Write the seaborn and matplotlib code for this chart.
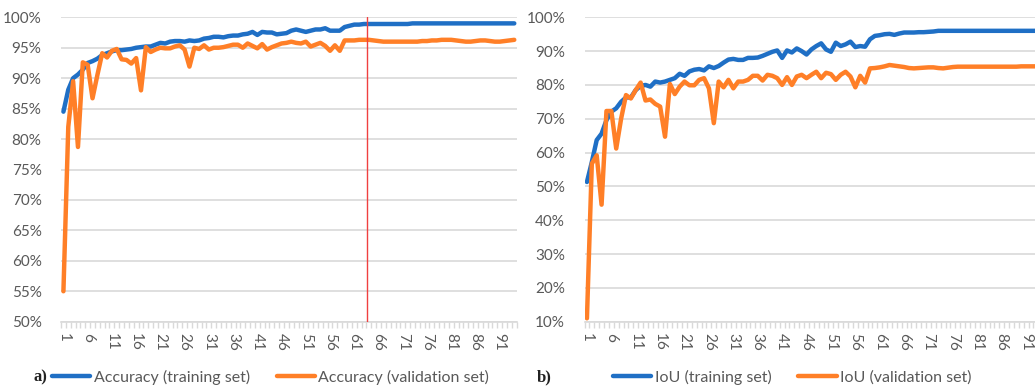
import numpy as np
import pandas as pd
import matplotlib
matplotlib.use("Agg")
import matplotlib.pyplot as plt
import seaborn as sns
from matplotlib.lines import Line2D

# ---------------- data ----------------
epochs = list(range(1, 95))

acc_train = [84.5, 88.1, 90.0, 90.6, 91.4, 92.5, 92.8, 93.2, 93.8, 94.1,
             94.4, 94.6, 94.6, 94.7, 94.8, 95.0, 95.1, 95.2, 95.2, 95.5,
             95.8, 95.7, 96.0, 96.1, 96.1, 96.0, 96.2, 96.1, 96.2, 96.5,
             96.6, 96.8, 96.8, 96.7, 96.9, 97.0, 97.0, 97.2, 97.3, 97.6,
             97.1, 97.6, 97.5, 97.5, 97.2, 97.3, 97.4, 97.8, 98.0, 97.8,
             97.6, 97.8, 98.0, 98.0, 98.2, 97.8, 97.8, 97.8, 98.4, 98.6,
             98.8, 98.8, 98.9, 98.9, 98.9, 98.9, 98.9, 98.9, 98.9, 98.9,
             98.9, 98.9, 99.0, 99.0, 99.0, 99.0, 99.0, 99.0, 99.0, 99.0,
             99.0, 99.0, 99.0, 99.0, 99.0, 99.0, 99.0, 99.0, 99.0, 99.0,
             99.0, 99.0, 99.0, 99.0]

acc_val = [55.0, 82.0, 89.5, 78.7, 92.6, 92.2, 86.7, 90.5, 94.1, 93.4,
           94.5, 94.8, 93.1, 93.0, 92.4, 93.3, 88.0, 95.1, 94.3, 94.7,
           95.0, 94.9, 94.9, 95.2, 95.4, 94.7, 91.9, 95.0, 94.8, 95.4,
           94.7, 95.0, 95.0, 95.1, 95.3, 95.5, 95.5, 95.0, 95.7, 95.3,
           94.9, 95.6, 94.7, 95.1, 95.4, 95.7, 95.8, 96.0, 95.8, 95.7,
           96.0, 95.2, 95.5, 95.8, 95.3, 94.5, 95.4, 94.5, 96.2, 96.2,
           96.2, 96.3, 96.3, 96.3, 96.2, 96.1, 96.0, 96.0, 96.0, 96.0,
           96.0, 96.0, 96.0, 96.0, 96.1, 96.1, 96.2, 96.2, 96.3, 96.3,
           96.3, 96.2, 96.1, 96.0, 96.0, 96.1, 96.2, 96.2, 96.1, 96.0,
           96.0, 96.1, 96.2, 96.3]

iou_train = [51.3, 57.2, 63.7, 65.6, 69.6, 72.1, 73.1, 75.0, 76.3, 76.3,
             78.5, 79.7, 80.0, 79.5, 81.0, 80.7, 81.0, 81.5, 82.0, 83.3,
             82.7, 84.0, 84.5, 84.7, 84.3, 85.5, 85.0, 85.6, 86.6, 87.5,
             87.7, 87.4, 87.4, 88.0, 88.0, 88.1, 88.6, 89.2, 89.8, 90.2,
             88.0, 90.2, 89.6, 90.8, 90.0, 89.0, 90.5, 91.5, 92.3, 90.5,
             89.8, 92.5, 91.5, 92.0, 92.8, 91.2, 91.5, 91.3, 93.5, 94.5,
             94.7, 95.0, 95.1, 94.8, 95.2, 95.5, 95.5, 95.5, 95.6, 95.6,
             95.7, 95.8, 96.0, 96.0, 96.0, 96.0, 96.0, 96.0, 96.0, 96.0,
             96.0, 96.0, 96.0, 96.0, 96.0, 96.0, 96.0, 96.0, 96.0, 96.0,
             96.0, 96.0, 96.0, 96.0]

iou_val = [11.0, 56.7, 59.2, 44.6, 72.3, 72.3, 61.2, 70.0, 77.0, 76.0,
           78.5, 80.7, 75.4, 75.7, 74.4, 73.6, 64.7, 80.3, 77.3, 79.5,
           81.0, 79.9, 79.9, 81.5, 82.0, 79.0, 68.7, 81.0, 79.3, 81.5,
           79.0, 81.0, 81.0, 81.5, 82.7, 82.7, 81.3, 83.0, 82.7, 82.0,
           80.0, 82.3, 80.0, 82.5, 83.0, 82.0, 83.0, 83.9, 82.0, 83.6,
           83.2, 81.5, 83.0, 83.9, 82.5, 79.3, 82.7, 80.7, 84.9, 85.0,
           85.2, 85.5, 85.9, 85.7, 85.5, 85.3, 85.0, 84.9, 85.0, 85.1,
           85.2, 85.2, 85.0, 84.9, 85.1, 85.3, 85.4, 85.4, 85.4, 85.4,
           85.4, 85.4, 85.4, 85.4, 85.4, 85.4, 85.4, 85.4, 85.4, 85.5,
           85.5, 85.5, 85.5, 85.6]

marker_epoch = 63.6
x_labels = list(range(1, 95, 5))

acc_names = ["Accuracy (training set)", "Accuracy (validation set)"]
iou_names = ["IoU (training set)", "IoU (validation set)"]

BLUE = "#1F6FC5"
ORANGE = "#FF7F27"
GRID = "#D9D9D9"
TXT = "#595959"

sns.set_theme(style="white")
plt.rcParams['font.family'] = ['Lato', 'DejaVu Sans']

df_acc = pd.DataFrame({"epoch": epochs * 2,
                       "value": acc_train + acc_val,
                       "series": [acc_names[0]] * 94 + [acc_names[1]] * 94})
df_iou = pd.DataFrame({"epoch": epochs * 2,
                       "value": iou_train + iou_val,
                       "series": [iou_names[0]] * 94 + [iou_names[1]] * 94})

W, H = 1035, 389
fig = plt.figure(figsize=(W / 100, H / 100), dpi=100)
ax1 = fig.add_axes([61 / W, 67.3 / H, 455.7 / W, 304.4 / H])
ax2 = fig.add_axes([584.5 / W, 67.3 / H, 458.7 / W, 304.4 / H])


def style(ax, df, names, ylo, yhi, ystep):
    sns.lineplot(data=df, x="epoch", y="value", hue="series", hue_order=names,
                 palette={names[0]: BLUE, names[1]: ORANGE}, lw=3.2,
                 legend=False, ax=ax, solid_joinstyle="round",
                 solid_capstyle="round", zorder=3)
    ax.set_xlim(0.5, 94.5)
    ax.set_ylim(ylo, yhi)
    yt = np.arange(ylo, yhi + 0.1, ystep)
    ax.set_yticks(yt)
    ax.set_yticklabels([f"{int(v)}%" for v in yt], color=TXT, fontsize=11)
    for v in yt:
        ax.axhline(v, color=GRID, lw=1.2, zorder=1)
    ax.set_xticks(x_labels)
    ax.set_xticklabels([str(v) for v in x_labels], rotation=270, color=TXT,
                       fontsize=11)
    ax.set_xticks(np.arange(0.5, 95, 1), minor=True)
    ax.tick_params(axis="x", which="major", length=0, pad=8)
    ax.tick_params(axis="x", which="minor", length=4, color=GRID, width=1,
                   direction="out", bottom=True)
    ax.tick_params(axis="y", length=0, pad=14)
    for s in ["top", "right", "left"]:
        ax.spines[s].set_visible(False)
    ax.spines["bottom"].set_color(GRID)
    ax.spines["bottom"].set_linewidth(1.2)
    ax.set_xlabel("")
    ax.set_ylabel("")
    ax.grid(False)


style(ax1, df_acc, acc_names, 50, 100, 5)
style(ax2, df_iou, iou_names, 10, 100, 10)
ax1.axvline(marker_epoch, color="#F04040", lw=1, zorder=4)


def add_legend(names, x_anchor):
    handles = [Line2D([], [], color=BLUE, lw=3.2),
               Line2D([], [], color=ORANGE, lw=3.2)]
    fig.legend(handles, names, loc="center left",
               bbox_to_anchor=(x_anchor, 12 / H), ncol=2, frameon=False,
               fontsize=11.5, handlelength=2.4, handletextpad=0.2,
               columnspacing=1.7, borderaxespad=0, borderpad=0,
               labelcolor=TXT)


add_legend(acc_names, 52 / W)
add_legend(iou_names, 613 / W)

fig.text(33 / W, 12 / H, "a)", fontsize=12, fontweight="bold",
         family="Liberation Serif", va="center", ha="left", color="#222222")
fig.text(537 / W, 12 / H, "b)", fontsize=12, fontweight="bold",
         family="Liberation Serif", va="center", ha="left", color="#222222")

fig.savefig("out.png", dpi=100)
